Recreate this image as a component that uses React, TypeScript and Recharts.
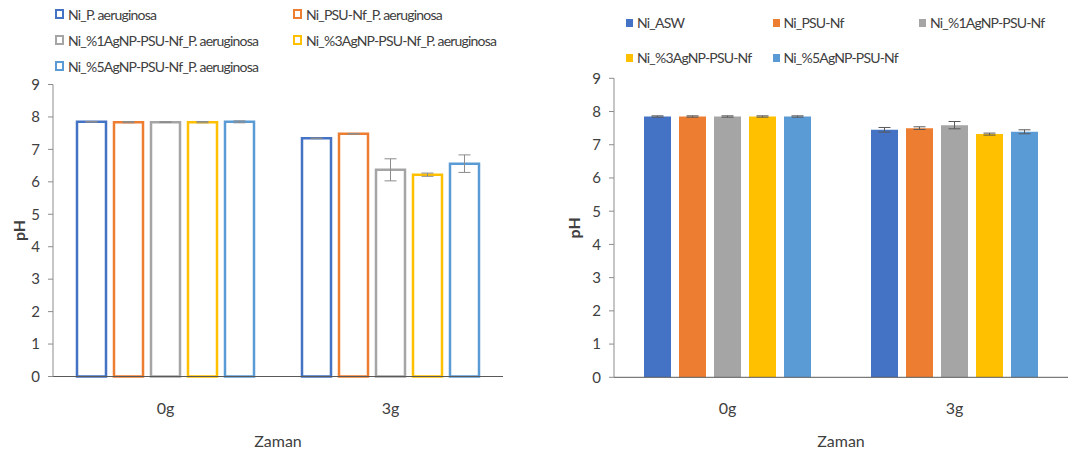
import React from 'react';
import { BarChart, Bar, XAxis, YAxis, ErrorBar } from 'recharts';

// time points
const categories = ['0g', '3g'];
const phTicks = [0, 1, 2, 3, 4, 5, 6, 7, 8, 9];

// P. aeruginosa series (left chart)
const paNames = [
  'Ni_P. aeruginosa',
  'Ni_PSU-Nf_P. aeruginosa',
  'Ni_%1AgNP-PSU-Nf_P. aeruginosa',
  'Ni_%3AgNP-PSU-Nf_P. aeruginosa',
  'Ni_%5AgNP-PSU-Nf_P. aeruginosa',
];
const paNi = [7.85, 7.34];
const paNiErr = [0.01, 0.01];
const paPsu = [7.84, 7.48];
const paPsuErr = [0.02, 0.01];
const paAg1 = [7.84, 6.37];
const paAg1Err = [0.01, 0.34];
const paAg3 = [7.84, 6.22];
const paAg3Err = [0.02, 0.05];
const paAg5 = [7.85, 6.56];
const paAg5Err = [0.03, 0.27];

// artificial sea water series (right chart)
const swNames = ['Ni_ASW', 'Ni_PSU-Nf', 'Ni_%1AgNP-PSU-Nf', 'Ni_%3AgNP-PSU-Nf', 'Ni_%5AgNP-PSU-Nf'];
const swAsw = [7.85, 7.45];
const swAswErr = [0.02, 0.07];
const swPsu = [7.85, 7.5];
const swPsuErr = [0.02, 0.04];
const swAg1 = [7.85, 7.59];
const swAg1Err = [0.02, 0.11];
const swAg3 = [7.85, 7.32];
const swAg3Err = [0.02, 0.03];
const swAg5 = [7.85, 7.39];
const swAg5Err = [0.02, 0.06];

const colors = ['#4472C4', '#ED7D31', '#A5A5A5', '#FFC000', '#5B9BD5'];
const FONT = 'Lato, "Open Sans", sans-serif';

const buildRows = (series: number[][], errs: number[][]) =>
  categories.map((name, i) => {
    const row: Record<string, string | number> = { name };
    series.forEach((s, k) => {
      row[`s${k}`] = s[i];
      row[`e${k}`] = errs[k][i];
    });
    return row;
  });

const paData = buildRows([paNi, paPsu, paAg1, paAg3, paAg5], [paNiErr, paPsuErr, paAg1Err, paAg3Err, paAg5Err]);
const swData = buildRows([swAsw, swPsu, swAg1, swAg3, swAg5], [swAswErr, swPsuErr, swAg1Err, swAg3Err, swAg5Err]);

const PhLabel = ({ viewBox, cx }: any) => {
  const y = viewBox.y + viewBox.height / 2;
  return (
    <text
      x={cx}
      y={y}
      transform={`rotate(-90 ${cx} ${y})`}
      textAnchor="middle"
      dominantBaseline="central"
      fontFamily={FONT}
      fontSize={16}
      fontWeight="bold"
      fill="#404040"
    >
      pH
    </text>
  );
};

const LegendBox = ({
  names,
  hollow,
  left,
  top,
  colWidth,
  rowHeight,
  cols,
}: {
  names: string[];
  hollow: boolean;
  left: number;
  top: number;
  colWidth: number;
  rowHeight: number;
  cols: number;
}) => (
  <div
    style={{
      position: 'absolute',
      left,
      top,
      width: colWidth * cols,
      fontFamily: FONT,
      fontSize: 14,
      letterSpacing: '-0.8px',
      color: '#404040',
    }}
  >
    {names.map((n, i) => (
      <div
        key={n}
        style={{
          position: 'absolute',
          left: (i % cols) * colWidth,
          top: Math.floor(i / cols) * rowHeight,
          height: rowHeight,
          display: 'flex',
          alignItems: 'center',
          whiteSpace: 'nowrap',
        }}
      >
        <span
          style={{
            display: 'inline-block',
            width: hollow ? 5 : 7,
            height: hollow ? 6 : 8,
            border: hollow ? `2px solid ${colors[i]}` : 'none',
            background: hollow ? '#fff' : colors[i],
            marginRight: 4,
          }}
        />
        {n}
      </div>
    ))}
  </div>
);

const axisTick = { fill: '#404040', fontSize: 15, fontFamily: FONT };
const catTick = { fill: '#404040', fontSize: 16, fontFamily: FONT };
const titleStyle = { fill: '#404040', fontSize: 16, fontFamily: FONT };

export default function App() {
  return (
    <div style={{ position: 'absolute', left: 0, top: 0, width: 1080, height: 455, background: '#fff' }}>
      <LegendBox names={paNames} hollow left={55} top={1} colWidth={238} rowHeight={26} cols={2} />
      <LegendBox names={swNames} hollow={false} left={626} top={5} colWidth={146.5} rowHeight={35} cols={3} />

      <div style={{ position: 'absolute', left: 0, top: 0 }}>
        <BarChart
          width={540}
          height={455}
          data={paData}
          margin={{ top: 84.5, right: 37, bottom: 8.5, left: 0 }}
          barCategoryGap={24}
          barGap={8}
        >
          <XAxis
            dataKey="name"
            axisLine={{ stroke: '#595959' }}
            tickLine={false}
            tick={catTick}
            tickMargin={20}
            height={70}
            label={{ value: 'Zaman', position: 'insideBottom', offset: 0, ...titleStyle }}
          />
          <YAxis
            domain={[0, 9]}
            ticks={phTicks}
            width={53}
            axisLine={{ stroke: '#8c8c8c' }}
            tickLine={{ stroke: '#8c8c8c' }}
            tickSize={5}
            tickMargin={8}
            tick={axisTick}
            label={<PhLabel cx={18} />}
          />
          {paNames.map((n, k) => (
            <Bar
              key={n}
              dataKey={`s${k}`}
              name={n}
              fill="#ffffff"
              stroke={colors[k]}
              strokeWidth={2.5}
              isAnimationActive={false}
            >
              <ErrorBar dataKey={`e${k}`} width={6} stroke="#8c8c8c" strokeWidth={1} direction="y" />
            </Bar>
          ))}
        </BarChart>
      </div>

      <div style={{ position: 'absolute', left: 540, top: 0 }}>
        <BarChart
          width={540}
          height={455}
          data={swData}
          margin={{ top: 78.3, right: 12, bottom: 7.7, left: 0 }}
          barCategoryGap={30}
          barGap={8}
        >
          <XAxis
            dataKey="name"
            axisLine={{ stroke: '#595959' }}
            tickLine={false}
            tick={catTick}
            tickMargin={19}
            height={70}
            label={{ value: 'Zaman', position: 'insideBottom', offset: 0, ...titleStyle }}
          />
          <YAxis
            domain={[0, 9]}
            ticks={phTicks}
            width={74}
            axisLine={{ stroke: '#8c8c8c' }}
            tickLine={{ stroke: '#8c8c8c' }}
            tickSize={5}
            tickMargin={8}
            tick={axisTick}
            label={<PhLabel cx={34} />}
          />
          {swNames.map((n, k) => (
            <Bar key={n} dataKey={`s${k}`} name={n} fill={colors[k]} isAnimationActive={false}>
              <ErrorBar dataKey={`e${k}`} width={6} stroke="#595959" strokeWidth={1} direction="y" />
            </Bar>
          ))}
        </BarChart>
      </div>
    </div>
  );
}
